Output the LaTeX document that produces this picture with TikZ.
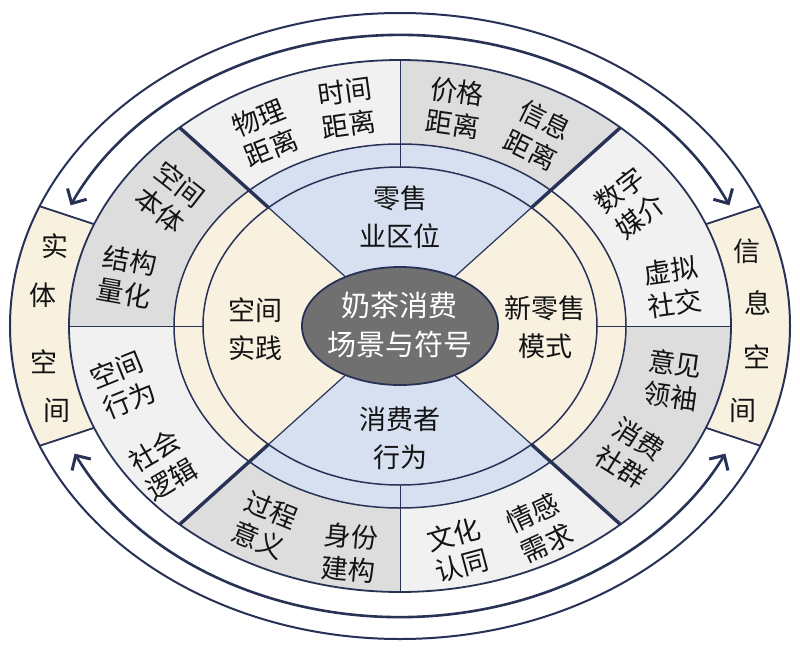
\documentclass[tikz,border=0pt]{standalone}
\usepackage{fontspec}
\newfontfamily\cjk{Noto Sans CJK SC}
\usetikzlibrary{arrows.meta}

\definecolor{framenavy}{RGB}{40,50,86}
\definecolor{bandbeige}{RGB}{248,241,224}
\definecolor{bandblue}{RGB}{214,224,240}
\definecolor{bandlight}{RGB}{241,241,241}
\definecolor{banddark}{RGB}{221,221,221}
\definecolor{coregray}{RGB}{112,112,112}

\tikzset{
  ring/.style={draw=framenavy, line width=1.8pt},
  divider/.style={draw=framenavy, line width=3.4pt},
  thinline/.style={draw=framenavy, line width=0.9pt},
  lbl/.style={font=\cjk\fontsize{27}{33}\selectfont, align=center, inner sep=0pt, text=black!92},
  midlbl/.style={lbl, font=\cjk\fontsize{27}{38}\selectfont},
  corelbl/.style={lbl, font=\cjk\fontsize{29}{39}\selectfont, text=white},
  flowtip/.tip={Straight Barb[length=11pt,width=22pt,line width=3pt]},
  flow/.style={draw=framenavy, line width=2.6pt, {flowtip}-{flowtip}},
}

\begin{document}
\begin{tikzpicture}[x=1pt,y=1pt]
  \def\ax{390}% outer xradius
  \def\ay{313}% outer yradius
  \def\fx{362}% flow xradius
  \def\fy{291}% flow yradius
  \def\bx{331}% band xradius
  \def\by{266}% band yradius
  \def\cx{226}% sector xradius
  \def\cy{182}% sector yradius
  \def\dx{197}% inner xradius
  \def\dy{159}% inner yradius
  \def\ex{98}% core xradius
  \def\ey{59}% core yradius

  \useasboundingbox[fill=white] (-400,-323) rectangle (400,326);

  % space bands left and right
  \foreach \s in {-22.5,157.5}{
    \fill[bandbeige] ({\ax*cos(\s)},{\ay*sin(\s)})
      arc[start angle=\s, end angle=\s+45, x radius=\ax, y radius=\ay]
      -- ({\bx*cos(\s+45)},{\by*sin(\s+45)})
      arc[start angle=\s+45, end angle=\s, x radius=\bx, y radius=\by] -- cycle;
  }

  % gray band
  \begin{scope}
    \clip (0,0) ellipse[x radius=\bx, y radius=\by];
    \foreach \a/\b/\c in {0/42/bandlight,42/90/banddark,90/138/bandlight,138/180/banddark,
                          180/222/bandlight,222/270/banddark,270/318/bandlight,318/360/banddark}
      \fill[\c] (0,0) -- (\a:500) -- ({(\a+\b)/2}:500) -- (\b:500) -- cycle;
  \end{scope}

  % four sectors
  \begin{scope}
    \clip (0,0) ellipse[x radius=\cx, y radius=\cy];
    \foreach \a/\b/\c in {42/138/bandblue,138/222/bandbeige,222/318/bandblue,-42/42/bandbeige}
      \fill[\c] (0,0) -- (\a:500) -- ({(\a+\b)/2}:500) -- (\b:500) -- cycle;
  \end{scope}
  \begin{scope}
    \clip (0,0) ellipse[x radius=\bx, y radius=\by];
    \foreach \a in {42,138,222,318} \draw[divider] (0,0) -- (\a:500);
    \foreach \a in {0,90,180,270} \draw[thinline] (0,0) -- (\a:500);
  \end{scope}
  \begin{scope}
    \clip (0,0) ellipse[x radius=\dx, y radius=\dy];
    \foreach \a/\b/\c in {42/138/bandblue,138/222/bandbeige,222/318/bandblue,-42/42/bandbeige}
      \fill[\c] (0,0) -- (\a:500) -- ({(\a+\b)/2}:500) -- (\b:500) -- cycle;
    \foreach \a in {42,138,222,318} \draw[thinline, line width=1.2pt] (0,0) -- (\a:500);
  \end{scope}

  % rings
  \draw[ring, line width=1.5pt] (0,0) ellipse[x radius=\dx, y radius=\dy];
  \draw[ring, line width=1.5pt] (0,0) ellipse[x radius=\cx, y radius=\cy];
  \draw[ring] (0,0) ellipse[x radius=\bx, y radius=\by];
  \draw[ring, line width=2pt] (0,0) ellipse[x radius=\ax, y radius=\ay];
  \foreach \s in {-22.5,22.5,157.5,202.5}
    \draw[ring] ({\ax*cos(\s)},{\ay*sin(\s)}) -- ({\bx*cos(\s)},{\by*sin(\s)});
  \draw[ring, fill=coregray] (0,0) ellipse[x radius=\ex, y radius=\ey];

  % flows between the two spaces
  \draw[flow] ({\fx*cos(24.5)},{\fy*sin(24.5)})
    arc[start angle=24.5, end angle=155.5, x radius=\fx, y radius=\fy];
  \draw[flow] ({\fx*cos(206)},{\fy*sin(206)})
    arc[start angle=206, end angle=334, x radius=\fx, y radius=\fy];

  % labels
  \node[corelbl] (core) at (0,1) {奶茶消费\\场景与符号};
  \node[midlbl] (location) at (0,109) {零售\\业区位};
  \node[midlbl] (retail) at (145,-1) {新零售\\模式};
  \node[midlbl] (practice) at (-144,-3) {空间\\实践};
  \node[midlbl] (behavior) at (0,-112) {消费者\\行为};

  \node[lbl, rotate=22] (physical) at (-135,193) {物理\\距离};
  \node[lbl, rotate=8] (time) at (-53,218) {时间\\距离};
  \node[lbl, rotate=-8] (price) at (55,218) {价格\\距离};
  \node[lbl, rotate=-26] (info) at (138,191) {信息\\距离};
  \node[lbl, rotate=38] (digital) at (230,123) {数字\\媒介};
  \node[lbl, rotate=8] (virtual) at (273,39) {虚拟\\社交};
  \node[lbl, rotate=-8] (opinion) at (273,-54) {意见\\领袖};
  \node[lbl, rotate=-32] (community) at (230,-127) {消费\\社群};
  \node[lbl, rotate=25] (emotion) at (140,-202) {情感\\需求};
  \node[lbl, rotate=15] (culture) at (58,-224) {文化\\认同};
  \node[lbl, rotate=-5] (identity) at (-50,-227) {身份\\建构};
  \node[lbl, rotate=-22] (process) at (-135,-199) {过程\\意义};
  \node[lbl, rotate=30] (social) at (-237,-139) {社会\\逻辑};
  \node[lbl, rotate=22] (spatial) at (-277,-59) {空间\\行为};
  \node[lbl, rotate=-10] (structure) at (-273,49) {结构\\量化};
  \node[lbl, rotate=-38] (ontology) at (-230,129) {空间\\本体};

  \foreach \ch/\t [count=\i] in {实/164,体/174,空/187,间/197}
    \node[lbl] (solid\i) at ({359*cos(\t)},{290*sin(\t)}) {\ch};
  \foreach \ch/\t [count=\i] in {信/15,息/4.5,空/-6,间/-17}
    \node[lbl] (cyber\i) at ({359*cos(\t)},{290*sin(\t)}) {\ch};
\end{tikzpicture}
\end{document}
